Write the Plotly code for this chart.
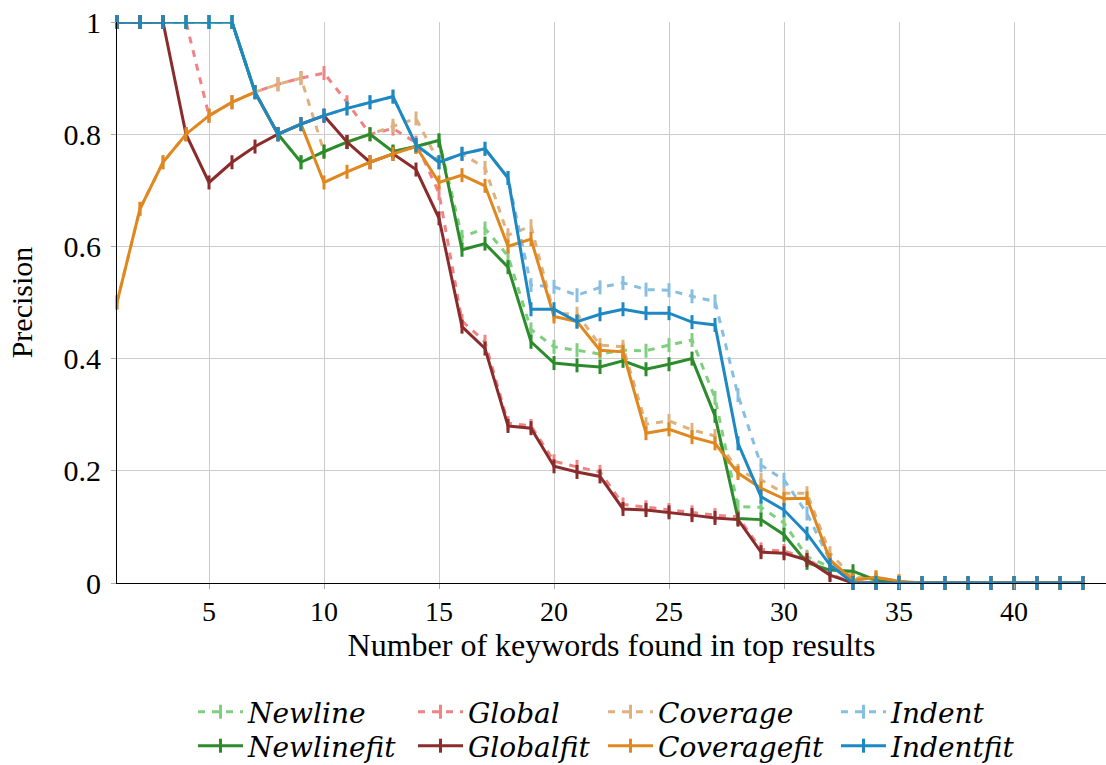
import plotly.graph_objects as go

x_vals = list(range(1, 44))
zeros = lambda n: [0.0] * n

newline = [1.0, 1.0, 1.0, 1.0, 1.0, 1.0, 0.875, 0.8, 0.75, 0.769, 0.786, 0.8, 0.769, 0.778, 0.789,
           0.617, 0.632, 0.583, 0.452, 0.421, 0.415, 0.408, 0.415, 0.414, 0.424, 0.433, 0.33,
           0.136, 0.135, 0.107, 0.047, 0.029, 0.01] + zeros(10)
global_ = [1.0, 1.0, 1.0, 1.0, 0.833, 0.857, 0.875, 0.889, 0.9, 0.909, 0.857, 0.8, 0.81, 0.785, 0.695,
           0.467, 0.43, 0.285, 0.28, 0.217, 0.207, 0.198, 0.14, 0.135, 0.13, 0.126, 0.121,
           0.118, 0.06, 0.057, 0.044, 0.016, 0.0] + zeros(10)
coverage = [0.5, 0.667, 0.75, 0.8, 0.833, 0.857, 0.875, 0.889, 0.9, 0.769, 0.786, 0.8, 0.815, 0.828, 0.75,
            0.765, 0.74, 0.62, 0.636, 0.48, 0.48, 0.424, 0.421, 0.283, 0.289, 0.273, 0.262,
            0.2, 0.184, 0.16, 0.16, 0.053, 0.01, 0.01, 0.003] + zeros(8)
indent = [1.0, 1.0, 1.0, 1.0, 1.0, 1.0, 0.875, 0.8, 0.818, 0.833, 0.846, 0.857, 0.867, 0.781, 0.75,
          0.765, 0.774, 0.722, 0.531, 0.528, 0.513, 0.527, 0.535, 0.523, 0.522, 0.511, 0.502,
          0.335, 0.21, 0.184, 0.124, 0.04, 0.0] + zeros(10)

newline_fit = [1.0, 1.0, 1.0, 1.0, 1.0, 1.0, 0.875, 0.8, 0.75, 0.769, 0.786, 0.8, 0.769, 0.778, 0.789,
               0.594, 0.605, 0.563, 0.43, 0.392, 0.388, 0.385, 0.396, 0.381, 0.39, 0.4, 0.298,
               0.115, 0.113, 0.086, 0.036, 0.023, 0.021, 0.005] + zeros(9)
global_fit = [1.0, 1.0, 1.0, 0.8, 0.714, 0.75, 0.778, 0.8, 0.818, 0.833, 0.786, 0.75, 0.765, 0.737, 0.65,
              0.457, 0.418, 0.28, 0.276, 0.208, 0.198, 0.19, 0.132, 0.13, 0.126, 0.121, 0.116,
              0.113, 0.055, 0.053, 0.041, 0.014, 0.0] + zeros(10)
coverage_fit = [0.5, 0.667, 0.75, 0.8, 0.833, 0.857, 0.875, 0.8, 0.818, 0.714, 0.733, 0.75, 0.765, 0.778, 0.714,
                0.727, 0.708, 0.6, 0.613, 0.475, 0.466, 0.415, 0.412, 0.267, 0.274, 0.26, 0.249,
                0.196, 0.169, 0.15, 0.151, 0.041, 0.005, 0.01, 0.003] + zeros(8)
indent_fit = [1.0, 1.0, 1.0, 1.0, 1.0, 1.0, 0.875, 0.8, 0.818, 0.833, 0.846, 0.857, 0.867, 0.781, 0.75,
              0.765, 0.774, 0.722, 0.488, 0.488, 0.466, 0.479, 0.488, 0.481, 0.481, 0.465, 0.46,
              0.249, 0.154, 0.13, 0.088, 0.032, 0.0] + zeros(10)

series_names = ["Newline", "Global", "Coverage", "Indent",
                "Newlinefit", "Globalfit", "Coveragefit", "Indentfit"]
series_values = [newline, global_, coverage, indent,
                 newline_fit, global_fit, coverage_fit, indent_fit]
series_colors = ["#80cf80", "#f08484", "#deb27f", "#88bfe0",
                 "#2c8c2c", "#8b2c2c", "#e08820", "#1e88c2"]
series_dashed = [True, True, True, True, False, False, False, False]

x_ticks = [5, 10, 15, 20, 25, 30, 35, 40]
y_ticks = [0, 0.2, 0.4, 0.6, 0.8, 1]
y_tick_text = ["0", "0.2", "0.4", "0.6", "0.8", "1"]

FONT = "Liberation Serif"
LEG_FONT = "DejaVu Serif"

# plot area in pixels (for placing legend entries)
L, R, T, B = 117, 0, 22, 182
W, H = 1106, 765
PW, PH = W - L - R, H - T - B
legend_px = [(193, 712), (413, 712), (603, 712), (836, 712),
             (193, 746), (413, 746), (603, 746), (836, 746)]

fig = go.Figure()
layout_legends = {}
for i, (name, vals, color, dashed) in enumerate(zip(series_names, series_values, series_colors, series_dashed)):
    key = "legend" if i == 0 else f"legend{i + 1}"
    fig.add_trace(go.Scatter(
        x=x_vals, y=vals, name="<i>" + name + "</i>", mode="lines+markers",
        line=dict(color=color, width=3, dash="7px,7px" if dashed else "solid"),
        marker=dict(symbol="line-ns", size=10, color=color,
                    line=dict(color=color, width=3)),
        cliponaxis=False, legend=key,
    ))
    px, py = legend_px[i]
    layout_legends[key] = dict(
        x=(px - L) / PW, xanchor="left",
        y=(H - B - py) / PH, yanchor="middle",
        font=dict(family=LEG_FONT, size=28, color="black"),
        itemwidth=45, bgcolor="rgba(0,0,0,0)", borderwidth=0,
    )

fig.update_layout(
    width=W, height=H,
    margin=dict(l=L, r=R, t=T, b=B, autoexpand=False),
    paper_bgcolor="white", plot_bgcolor="white",
    font=dict(family=FONT, size=28, color="black"),
    showlegend=True,
    xaxis=dict(
        range=[1, 44], tickvals=x_ticks, showgrid=True, gridcolor="#cccccc", gridwidth=1,
        showline=True, linecolor="black", linewidth=1, zeroline=False,
        ticks="outside", ticklen=5, tickcolor="#aaaaaa", ticklabelstandoff=-2,
        tickfont=dict(family=FONT, size=28),
        title=dict(text="Number of keywords found in top results",
                   font=dict(family=FONT, size=32), standoff=5),
    ),
    yaxis=dict(
        range=[0, 1], tickvals=y_ticks, ticktext=y_tick_text, showgrid=True,
        gridcolor="#cccccc", gridwidth=1,
        showline=True, linecolor="black", linewidth=1, zeroline=False,
        ticks="outside", ticklen=5, tickcolor="#aaaaaa", ticklabelstandoff=4,
        tickfont=dict(family=FONT, size=30),
        title=dict(text="Precision", font=dict(family=FONT, size=30), standoff=22),
    ),
    **layout_legends,
)

fig.write_html("out.html", config={"displayModeBar": False},
               post_script="document.body.style.margin='0';document.body.style.overflow='hidden';")
